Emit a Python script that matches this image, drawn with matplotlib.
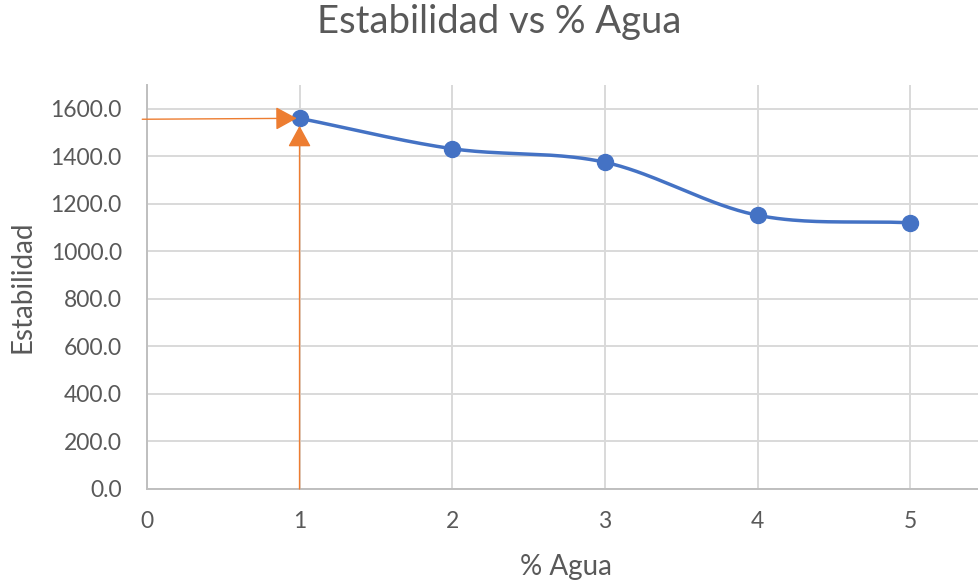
import numpy as np
import matplotlib
matplotlib.use("Agg")
import matplotlib.pyplot as plt

# Data
agua = [1, 2, 3, 4, 5]
estabilidad = [1560, 1432, 1375, 1152, 1120]
x_ticks = [0, 1, 2, 3, 4, 5]
y_ticks = [0, 200, 400, 600, 800, 1000, 1200, 1400, 1600]

# Reference point marked with orange arrows
ref_x = 1
ref_y = 1560

plt.rcParams['font.family'] = ['Lato', 'DejaVu Sans']
TEXT = '#595959'
GRID = '#d9d9d9'
BLUE = '#4472C4'
ORANGE = '#ED7D31'


def smooth_curve(xs, ys, n=40):
    """Catmull-Rom curve through the points (smoothed-line look)."""
    xs = np.asarray(xs, float)
    ys = np.asarray(ys, float)
    px = np.concatenate([[2 * xs[0] - xs[1]], xs, [2 * xs[-1] - xs[-2]]])
    py = np.concatenate([[2 * ys[0] - ys[1]], ys, [2 * ys[-1] - ys[-2]]])
    outx, outy = [], []
    for i in range(1, len(px) - 2):
        t = np.linspace(0, 1, n)
        p0, p1, p2, p3 = px[i - 1], px[i], px[i + 1], px[i + 2]
        q0, q1, q2, q3 = py[i - 1], py[i], py[i + 1], py[i + 2]
        def cr(a, b, c, d):
            return 0.5 * ((2 * b) + (-a + c) * t + (2 * a - 5 * b + 4 * c - d) * t ** 2
                          + (-a + 3 * b - 3 * c + d) * t ** 3)
        outx.append(cr(p0, p1, p2, p3))
        outy.append(cr(q0, q1, q2, q3))
    return np.concatenate(outx), np.concatenate(outy)


fig = plt.figure(figsize=(9.79, 5.88), dpi=100)
ax = fig.add_axes([0.150, 0.1684, 0.850, 0.6870])

ax.set_xlim(0, 5.45)
ax.set_ylim(0, 1700)
ax.set_xticks(x_ticks)
ax.set_yticks(y_ticks)
ax.set_xticklabels([str(v) for v in x_ticks])
ax.set_yticklabels([f"{v:.1f}" for v in y_ticks])

ax.grid(True, color=GRID, linewidth=1.4)
ax.set_axisbelow(True)
for side in ['top', 'right']:
    ax.spines[side].set_visible(False)
for side in ['left', 'bottom']:
    ax.spines[side].set_color('#bfbfbf')
    ax.spines[side].set_linewidth(1.4)
ax.tick_params(axis='both', length=0, colors=TEXT, labelsize=16.5)
ax.tick_params(axis='x', pad=16)
ax.tick_params(axis='y', pad=18)

# Smoothed data series
sx, sy = smooth_curve(agua, estabilidad)
ax.plot(sx, sy, color=BLUE, linewidth=2.5, zorder=3)
ax.plot(agua, estabilidad, 'o', color=BLUE, markersize=11.5, zorder=4, clip_on=False)

# Orange guide arrows to the reference point
arrow = dict(arrowstyle='-|>,head_length=1.1,head_width=0.6', color=ORANGE,
             linewidth=1.0, mutation_scale=12, shrinkA=0, shrinkB=2)
ax.annotate('', xy=(ref_x, ref_y), xytext=(-0.03, ref_y - 4),
            arrowprops=arrow, annotation_clip=False, zorder=5)
ax.annotate('', xy=(ref_x, ref_y - 20), xytext=(ref_x, 0),
            arrowprops=arrow, annotation_clip=False, zorder=5)

fig.text(0.51, 0.962, 'Estabilidad vs % Agua', ha='center', va='center',
         fontsize=27.5, color=TEXT)
fig.text(0.578, 0.036, '% Agua', ha='center', va='center',
         fontsize=20, color=TEXT)
fig.text(0.023, 0.512, 'Estabilidad', rotation=90, ha='center', va='center',
         fontsize=20, color=TEXT)

fig.savefig('out.png', dpi=100)
